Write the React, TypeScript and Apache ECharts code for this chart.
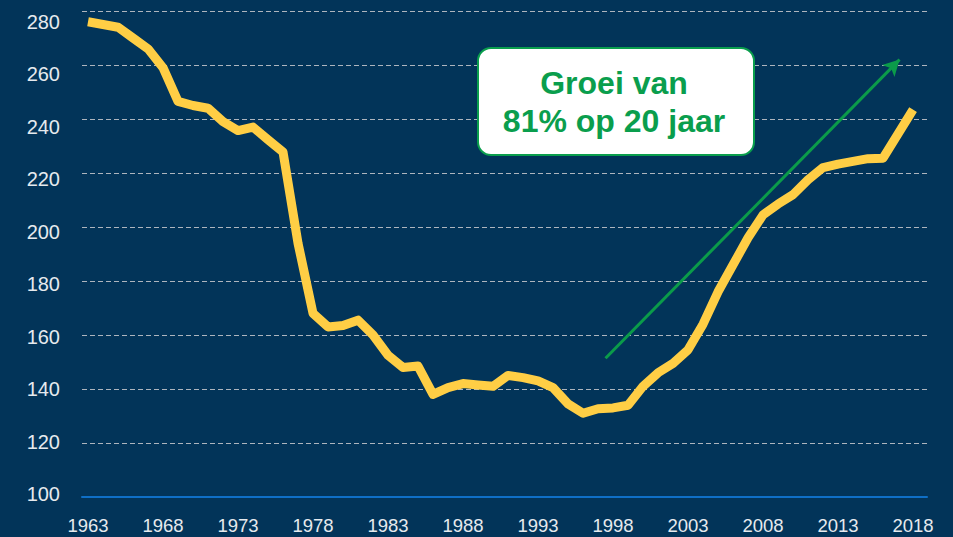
import React, { useEffect, useRef } from "react";
import * as echarts from "echarts";

const years: number[] = [
  1963, 1964, 1965, 1966, 1967, 1968, 1969, 1970, 1971, 1972, 1973, 1974, 1975, 1976,
  1977, 1978, 1979, 1980, 1981, 1982, 1983, 1984, 1985, 1986, 1987, 1988, 1989, 1990,
  1991, 1992, 1993, 1994, 1995, 1996, 1997, 1998, 1999, 2000, 2001, 2002, 2003, 2004,
  2005, 2006, 2007, 2008, 2009, 2010, 2011, 2012, 2013, 2014, 2015, 2016, 2017, 2018,
];

const values: number[] = [
  276, 275, 274, 270, 266, 259, 246.5, 245, 244, 239, 235.7, 237, 232.3, 227.8,
  194, 168, 163, 163.5, 165.5, 160, 152.5, 148, 148.5, 138, 140.5, 142, 141.5, 141,
  145, 144.2, 143, 140.5, 134.5, 131, 132.7, 133, 134, 141, 146, 149.5, 154.5, 164,
  176, 186, 196, 204.5, 208.5, 212, 217.5, 222, 223.3, 224.3, 225.3, 225.5, 234.5, 243.5,
];

const xTickLabels: number[] = [1963, 1968, 1973, 1978, 1983, 1988, 1993, 1998, 2003, 2008, 2013, 2018];
const yTickLabels: number[] = [100, 120, 140, 160, 180, 200, 220, 240, 260, 280];

// growth arrow: start and end in data coordinates [year, value]
const arrowStart: number[] = [1997.5, 151.4];
const arrowEnd: number[] = [2017.1, 262];

const annotationText = "Groei van\n81% op 20 jaar";

export default function App() {
  const ref = useRef<HTMLDivElement>(null);

  useEffect(() => {
    if (!ref.current) return;
    const chart = echarts.init(ref.current, null, { renderer: "svg" });
    const font = "'Liberation Sans', Arial, sans-serif";
    const green = "#0a9e4d";

    const option: any = {
      animation: false,
      backgroundColor: "#023459",
      grid: {
        left: 82,
        right: 26,
        top: 11,
        bottom: 40,
        containLabel: false,
        outerBoundsMode: "none",
      },
      xAxis: {
        type: "value",
        min: 1962.6,
        max: 2018.93,
        axisLine: { show: true, lineStyle: { color: "#0f6fc6", width: 2 } },
        axisTick: { show: false },
        splitLine: { show: false },
        axisLabel: {
          customValues: xTickLabels,
          color: "#e6eaee",
          fontSize: 18.5,
          fontFamily: font,
          margin: 19,
          formatter: (v: number) => String(v),
        },
      },
      yAxis: [
        {
          type: "value",
          min: 100,
          max: 280,
          interval: 20,
          axisLine: { show: false },
          axisTick: { show: false },
          axisLabel: { show: false },
          splitLine: {
            show: true,
            lineStyle: { color: "#aeb5be", width: 1.2, type: [5, 3] },
          },
        },
        {
          type: "value",
          position: "left",
          min: 98.86,
          max: 284.1,
          axisLine: { show: false },
          axisTick: { show: false },
          splitLine: { show: false },
          axisLabel: {
            customValues: yTickLabels,
            color: "#e6eaee",
            fontSize: 20,
            fontFamily: font,
            margin: 22,
            formatter: (v: number) => String(v),
          },
        },
      ],
      series: [
        {
          type: "line",
          yAxisIndex: 0,
          data: years.map((y, i) => [y, values[i]]),
          showSymbol: false,
          symbol: "none",
          lineStyle: { color: "#FFCE45", width: 9, join: "round" },
          z: 3,
          markLine: {
            silent: true,
            symbol: ["none", "arrow"],
            symbolSize: [13, 16],
            label: { show: false },
            lineStyle: { color: "#0b9b4a", width: 3, type: "solid" },
            data: [[{ coord: arrowStart }, { coord: arrowEnd }]],
          },
        },
      ],
      graphic: [
        {
          type: "rect",
          shape: { x: 478, y: 48, width: 276, height: 107, r: 13 },
          style: { fill: "#ffffff", stroke: green, lineWidth: 2 },
          z: 10,
        },
        {
          type: "text",
          x: 614,
          y: 102,
          z: 11,
          style: {
            text: annotationText,
            fill: green,
            font: `bold 32px ${font}`,
            align: "center",
            verticalAlign: "middle",
            lineHeight: 38,
          },
        },
      ],
    };

    chart.setOption(option);
    return () => chart.dispose();
  }, []);

  return (
    <div
      ref={ref}
      style={{ position: "fixed", left: 0, top: 0, width: 953, height: 537 }}
    />
  );
}
